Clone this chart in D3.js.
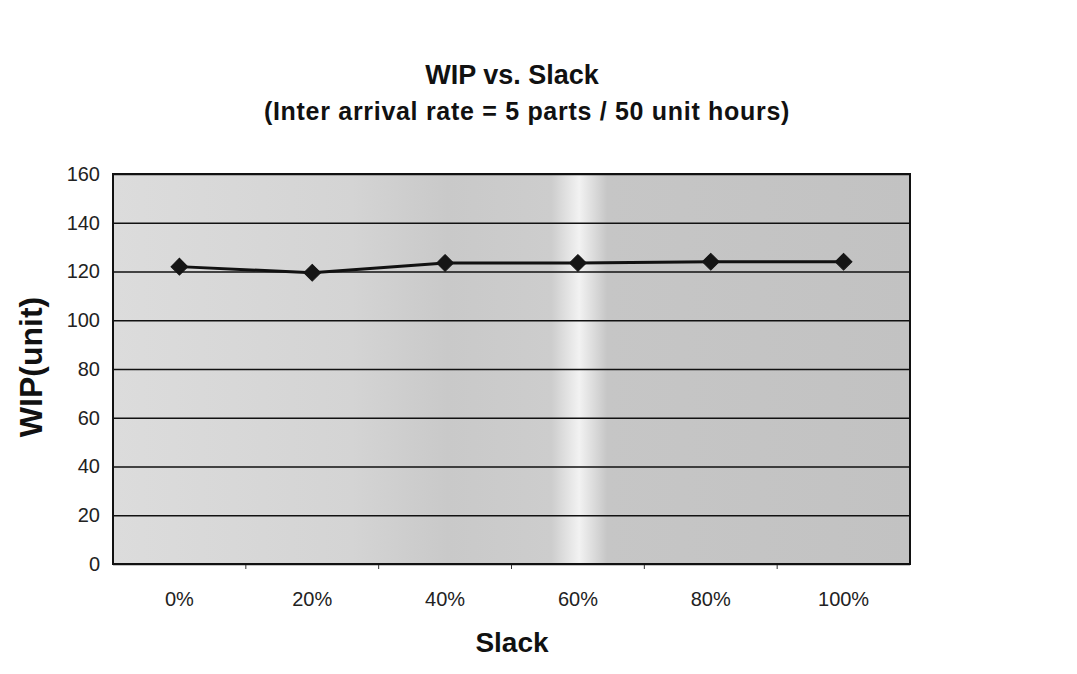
<!DOCTYPE html>
<html>
<head>
<meta charset="utf-8">
<script src="https://cdn.jsdelivr.net/npm/d3@7"></script>
<style>
  body { margin: 0; background: #fff; }
  svg { font-family: "Liberation Sans", Arial, sans-serif; }
</style>
</head>
<body>
<svg width="1077" height="674"></svg>
<script>
const categories = ["0%", "20%", "40%", "60%", "80%", "100%"];
const wipValues = [122, 119.5, 123.5, 123.5, 124, 124];
const yTicks = [0, 20, 40, 60, 80, 100, 120, 140, 160];

const margin = { top: 174, right: 167, bottom: 110, left: 113 },
      width = 1077 - margin.left - margin.right,
      height = 674 - margin.top - margin.bottom;

const root = d3.select("svg");

// Background shading of the plot area
const grad = root.append("defs").append("linearGradient")
  .attr("id", "bg")
  .attr("x1", "0%").attr("x2", "100%");
[[0, "#dcdcdc"], [0.3, "#d4d4d4"], [0.42, "#c9c9c9"], [0.55, "#cdcdcd"],
 [0.585, "#f2f2f2"], [0.62, "#c6c6c6"], [1, "#c2c2c2"]]
  .forEach(([o, c]) => grad.append("stop").attr("offset", o).attr("stop-color", c));

const svg = root.append("g")
  .attr("transform", `translate(${margin.left},${margin.top})`);

// Scales
const x = d3.scaleBand()
  .domain(categories)
  .range([0, width]);

const y = d3.scaleLinear()
  .domain([0, 160])
  .range([height, 0]);

svg.append("rect")
  .attr("width", width)
  .attr("height", height)
  .attr("fill", "url(#bg)");

// Gridlines
svg.append("g")
  .call(d3.axisLeft(y).tickValues(yTicks).tickSize(-width).tickFormat(""))
  .call(g => g.select(".domain").remove())
  .call(g => g.selectAll("line").attr("stroke", "#111").attr("stroke-width", 1.5));

// Axes
svg.append("g")
  .attr("transform", `translate(0,${height})`)
  .call(d3.axisBottom(x).tickSize(0).tickPadding(28))
  .call(g => g.select(".domain").remove())
  .call(g => g.selectAll("text").attr("fill", "#222").style("font-size", "20px"));

// x ticks at band boundaries
svg.append("g")
  .selectAll("line")
  .data(categories.slice(1))
  .enter()
  .append("line")
  .attr("x1", d => x(d))
  .attr("x2", d => x(d))
  .attr("y1", height)
  .attr("y2", height + 5)
  .attr("stroke", "#333");

svg.append("g")
  .call(d3.axisLeft(y).tickValues(yTicks).tickSize(0).tickPadding(13))
  .call(g => g.select(".domain").remove())
  .call(g => g.selectAll("text").attr("fill", "#222").style("font-size", "20px"));

// Plot frame
svg.append("rect")
  .attr("width", width)
  .attr("height", height)
  .attr("fill", "none")
  .attr("stroke", "#111")
  .attr("stroke-width", 2);

// Line
const line = d3.line()
  .x((d, i) => x(categories[i]) + x.bandwidth() / 2)
  .y(d => y(d));

svg.append("path")
  .datum(wipValues)
  .attr("fill", "none")
  .attr("stroke", "#111")
  .attr("stroke-width", 3)
  .attr("d", line);

// Diamond markers (rotated squares)
svg.selectAll(".marker")
  .data(wipValues)
  .enter()
  .append("path")
  .attr("class", "marker")
  .attr("transform", (d, i) => `translate(${x(categories[i]) + x.bandwidth() / 2},${y(d)}) rotate(45)`)
  .attr("d", d3.symbol(d3.symbolSquare, 140))
  .attr("fill", "#151515")
  .attr("stroke", "#151515")
  .attr("stroke-width", 1);

// Titles
root.append("text")
  .attr("x", 512)
  .attr("y", 84)
  .attr("text-anchor", "middle")
  .style("font-size", "27px")
  .style("font-weight", "bold")
  .attr("fill", "#111")
  .text("WIP vs. Slack");

root.append("text")
  .attr("x", 527)
  .attr("y", 120)
  .attr("text-anchor", "middle")
  .style("font-size", "25px")
  .style("font-weight", "bold")
  .style("letter-spacing", "0.7px")
  .attr("fill", "#111")
  .text("(Inter arrival rate = 5 parts / 50 unit hours)");

// Axis titles
root.append("text")
  .attr("x", 512)
  .attr("y", 652)
  .attr("text-anchor", "middle")
  .style("font-size", "28px")
  .style("font-weight", "bold")
  .attr("fill", "#111")
  .text("Slack");

root.append("text")
  .attr("transform", "translate(42,367) rotate(-90)")
  .attr("text-anchor", "middle")
  .style("font-size", "32px")
  .style("font-weight", "bold")
  .attr("fill", "#111")
  .text("WIP(unit)");
</script>
</body>
</html>
